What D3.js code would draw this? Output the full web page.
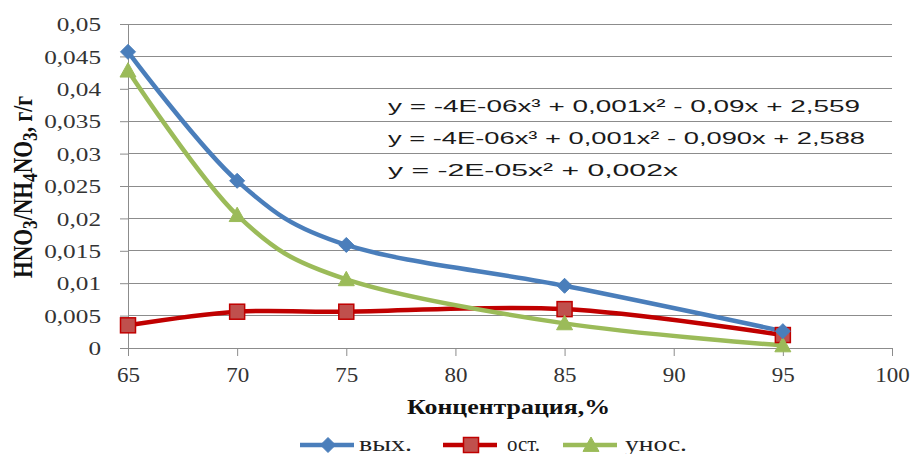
<!DOCTYPE html>
<html><head><meta charset="utf-8">
<script src="https://cdnjs.cloudflare.com/ajax/libs/d3/7.8.5/d3.min.js"></script>
<style>
html,body{margin:0;padding:0;background:#fff;}
svg{display:block;}
</style></head>
<body>
<script>
const categories = [65, 70, 75, 85, 95];
const seriesNames = ["вых.", "ост.", "унос."];
const vyh  = [0.0457, 0.0258, 0.0159, 0.0096, 0.0026];
const ost  = [0.0035, 0.0056, 0.0056, 0.0060, 0.0020];
const unos = [0.0428, 0.0205, 0.0106, 0.0038, 0.0004];
const xTicks = [65, 70, 75, 80, 85, 90, 95, 100];
const yTicks = [0, 0.005, 0.01, 0.015, 0.02, 0.025, 0.03, 0.035, 0.04, 0.045, 0.05];
const equations = [
  "y = -4E-06x³ + 0,001x² - 0,09x + 2,559",
  "y = -4E-06x³ + 0,001x² - 0,090x + 2,588",
  "y = -2E-05x² + 0,002x"
];
const xTitle = "Концентрация,%";

const W = 913, H = 454;
const L = 128, R = 892, T = 24, B = 348;
const svg = d3.select("body").append("svg").attr("width", W).attr("height", H);

const x = d3.scaleLinear().domain([65, 100]).range([L, R]);
const y = d3.scaleLinear().domain([0, 0.05]).range([B, T]);
const fmt = d => String(+d.toFixed(3)).replace(".", ",");

const gridC = "#8c8c8c";
// gridlines
svg.append("g").selectAll("line").data(yTicks.filter(d => d > 0)).join("line")
  .attr("x1", L).attr("x2", R).attr("y1", d => y(d)).attr("y2", d => y(d))
  .attr("stroke", gridC).attr("stroke-width", 1).attr("shape-rendering", "crispEdges");

// y axis
const ySX = 1.33;
const ya = svg.append("g").attr("transform", `translate(${L},0)`)
  .call(d3.axisLeft(y).tickValues(yTicks).tickFormat(fmt).tickSize(8).tickPadding(18));
ya.select(".domain").attr("stroke", gridC);
ya.selectAll(".tick line").attr("stroke", gridC);
ya.selectAll(".tick text").attr("font-family", "'Liberation Serif','Times New Roman',serif")
  .attr("font-size", 19).attr("fill", "#333").attr("dy", "0.35em")
  .attr("transform", `scale(${ySX},1)`).attr("x", -27 / ySX);

// x axis
const xa = svg.append("g").attr("transform", `translate(0,${B})`)
  .call(d3.axisBottom(x).tickValues(xTicks).tickFormat(d => d).tickSize(8).tickPadding(10));
xa.select(".domain").attr("stroke", gridC);
xa.selectAll(".tick line").attr("stroke", gridC);
xa.selectAll(".tick text").attr("font-family", "'Liberation Serif','Times New Roman',serif")
  .attr("font-size", 20).attr("fill", "#333").attr("dy", null).attr("y", 34)
  .attr("transform", "scale(1.15,1)");

// equations
const eqY = [112, 144, 176];
const eqLen = [472, 477, 290];
svg.append("g").selectAll("text").data(equations).join("text")
  .attr("x", 388).attr("y", (d, i) => eqY[i])
  .attr("font-family", "'Liberation Sans',Arial,sans-serif").attr("font-size", 17)
  .attr("fill", "#1a1a1a")
  .attr("textLength", (d, i) => eqLen[i]).attr("lengthAdjust", "spacingAndGlyphs")
  .text(d => d);

// series
const colors = ["#4a7ebb", "#c00000", "#9bbb59"];
const data = [vyh, ost, unos];
const line = d3.line().x((d, i) => x(categories[i])).y(d => y(d)).curve(d3.curveCardinal.tension(0));

function marker(g, k, cx, cy) {
  if (k === 0) {
    const s = 7.5;
    g.append("path").attr("d", `M${cx},${cy - s}L${cx + s},${cy}L${cx},${cy + s}L${cx - s},${cy}Z`)
      .attr("fill", "#4a7ebb").attr("stroke", "#4a7ebb").attr("stroke-width", 1);
  } else if (k === 1) {
    const s = 7.5;
    g.append("rect").attr("x", cx - s).attr("y", cy - s).attr("width", 2 * s).attr("height", 2 * s)
      .attr("fill", "#c0504d").attr("stroke", "#c00000").attr("stroke-width", 1.5);
  } else {
    const s = 8;
    g.append("path").attr("d", `M${cx},${cy - s}L${cx + s},${cy + s * 0.8}L${cx - s},${cy + s * 0.8}Z`)
      .attr("fill", "#9bbb59").attr("stroke", "#9bbb59").attr("stroke-width", 1);
  }
}

[1, 2, 0].forEach(k => {
  svg.append("path").datum(data[k]).attr("d", line)
    .attr("fill", "none").attr("stroke", colors[k]).attr("stroke-width", 4.5)
    .attr("stroke-linejoin", "round");
});
[1, 2, 0].forEach(k => {
  const g = svg.append("g");
  data[k].forEach((v, i) => marker(g, k, x(categories[i]), y(v)));
});

// axis titles
svg.append("text").attr("x", 407).attr("y", 414)
  .attr("font-family", "'Liberation Serif','Times New Roman',serif").attr("font-weight", "bold")
  .attr("font-size", 20).attr("fill", "#111")
  .attr("textLength", 203).attr("lengthAdjust", "spacingAndGlyphs").text(xTitle);

const yt = svg.append("text")
  .attr("transform", "translate(32,187) rotate(-90) scale(1,1.25)")
  .attr("text-anchor", "middle")
  .attr("font-family", "'Liberation Serif','Times New Roman',serif").attr("font-weight", "bold")
  .attr("font-size", 21).attr("fill", "#111")
  .attr("textLength", 182).attr("lengthAdjust", "spacingAndGlyphs");
const parts = [["HNO", 0], ["3", 1], ["/NH", 0], ["4", 1], ["NO", 0], ["3", 1], [",  г/г", 0]];
parts.forEach(([t, s], i) => {
  const ts = yt.append("tspan").text(t);
  if (s) ts.attr("font-size", 17).attr("dy", 4);
  else if (i > 0) ts.attr("dy", -4);
});

// legend
const lgY = 445;
const lgX = [300, 443, 563];
const lgText = [359, 507, 625];
const lgLen = [53, 33, 62];
seriesNames.forEach((nm, k) => {
  const g = svg.append("g");
  g.append("line").attr("x1", lgX[k]).attr("x2", lgX[k] + 54).attr("y1", lgY).attr("y2", lgY)
    .attr("stroke", colors[k]).attr("stroke-width", 4.5);
  marker(g, k, lgX[k] + 28, lgY);
  g.append("text").attr("x", lgText[k]).attr("y", lgY + 6)
    .attr("font-family", "'Liberation Serif','Times New Roman',serif").attr("font-size", 20)
    .attr("fill", "#222").attr("textLength", lgLen[k]).attr("lengthAdjust", "spacingAndGlyphs")
    .text(nm);
});
</script>
</body></html>
